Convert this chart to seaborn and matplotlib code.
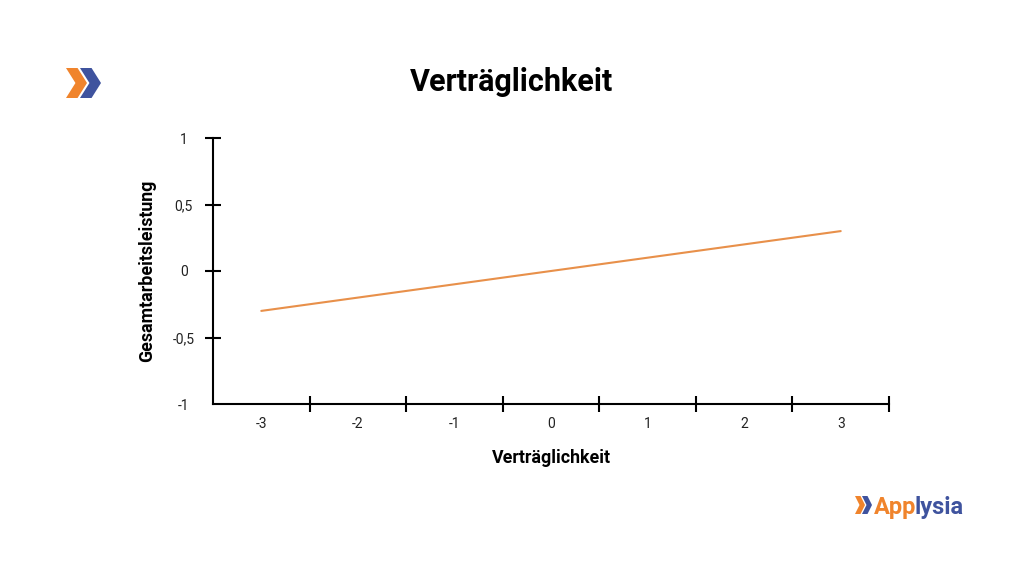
import matplotlib
matplotlib.use("Agg")
import matplotlib.pyplot as plt
import seaborn as sns
import pandas as pd
from matplotlib.patches import Polygon
from matplotlib.ticker import FixedLocator, FuncFormatter

# Data
vertraeglichkeit = [-3, -2, -1, 0, 1, 2, 3]
leistung = [-0.30, -0.20, -0.10, 0.00, 0.10, 0.20, 0.30]
x_labels = ["-3", "-2", "-1", "0", "1", "2", "3"]
y_ticks = [-1, -0.5, 0, 0.5, 1]

ORANGE = "#F0842C"
BLUE = "#3F539E"
LINE = "#E8904A"

sns.set_theme(style="white")
plt.rcParams["font.family"] = ["Roboto", "DejaVu Sans"]

df = pd.DataFrame({"Verträglichkeit": vertraeglichkeit, "Gesamtarbeitsleistung": leistung})

fig = plt.figure(figsize=(10.24, 5.76), dpi=100)
ax = fig.add_axes([213 / 1024, 1 - 404 / 576, (889 - 213) / 1024, (404 - 138) / 576])

sns.lineplot(data=df, x="Verträglichkeit", y="Gesamtarbeitsleistung", color=LINE, linewidth=1.5, ax=ax)

ax.set_xlim(-3.5, 3.5)
ax.set_ylim(-1, 1)
for s in ["top", "right"]:
    ax.spines[s].set_visible(False)
for s in ["left", "bottom"]:
    ax.spines[s].set_color("black")
    ax.spines[s].set_linewidth(1.5)

# x: tick marks between categories, labels at categories
ax.xaxis.set_major_locator(FixedLocator([v + 0.5 for v in vertraeglichkeit]))
ax.xaxis.set_major_formatter(FuncFormatter(lambda v, p: ""))
ax.xaxis.set_minor_locator(FixedLocator(vertraeglichkeit))
ax.xaxis.set_minor_formatter(FuncFormatter(lambda v, p: x_labels[vertraeglichkeit.index(int(round(v)))]))
ax.tick_params(axis="x", which="major", direction="inout", length=12, width=1.5, color="black", bottom=True)
ax.tick_params(axis="x", which="minor", length=0, pad=9, labelsize=10, labelcolor="#222222", bottom=True)

ax.set_yticks(y_ticks)
ax.yaxis.set_major_formatter(FuncFormatter(lambda v, p: ("%g" % v).replace(".", ",")))
ax.tick_params(axis="y", which="major", direction="inout", length=12, width=1.5, color="black",
               pad=15, labelsize=10, labelcolor="#222222", left=True)
ax.yaxis.get_major_ticks()[0].tick1line.set_visible(False)
for lab in ax.get_yticklabels():
    lab.set_horizontalalignment("center")

ax.set_xlabel("Verträglichkeit", fontsize=12.8, fontweight="bold", labelpad=13, color="black")
ax.set_ylabel("Gesamtarbeitsleistung", fontsize=12.8, fontweight="bold", labelpad=12, color="black")

fig.text(512 / 1024, 1 - 82 / 576, "Verträglichkeit", fontsize=22, fontweight="bold",
         ha="center", va="center", color="black")

# logos in pixel coordinates
ov = fig.add_axes([0, 0, 1, 1], zorder=-1)
ov.set_xlim(0, 1024)
ov.set_ylim(576, 0)
ov.axis("off")


def chevron(x, y, w, h, color):
    d = w * 0.45
    pts = [(x, y), (x + w - d, y), (x + w, y + h / 2), (x + w - d, y + h), (x, y + h), (x + d, y + h / 2)]
    ov.add_patch(Polygon(pts, closed=True, color=color, lw=0))


chevron(66, 68, 21, 30, ORANGE)
chevron(80, 68, 21, 30, BLUE)
chevron(855, 496, 10, 18, ORANGE)
chevron(862, 496, 10, 18, BLUE)

t1 = ov.text(874, 514, "App", fontsize=17, fontweight="bold", color=ORANGE, ha="left", va="baseline")
fig.canvas.draw()
bb = t1.get_window_extent()
x_next = bb.x1 - 1.5
ov.text(x_next, 1 - 514 / 576, "lysia", fontsize=17, fontweight="bold", color=BLUE,
        ha="left", va="baseline", transform=matplotlib.transforms.blended_transform_factory(
            matplotlib.transforms.IdentityTransform(), fig.transFigure))

fig.savefig("out.png", dpi=100)
